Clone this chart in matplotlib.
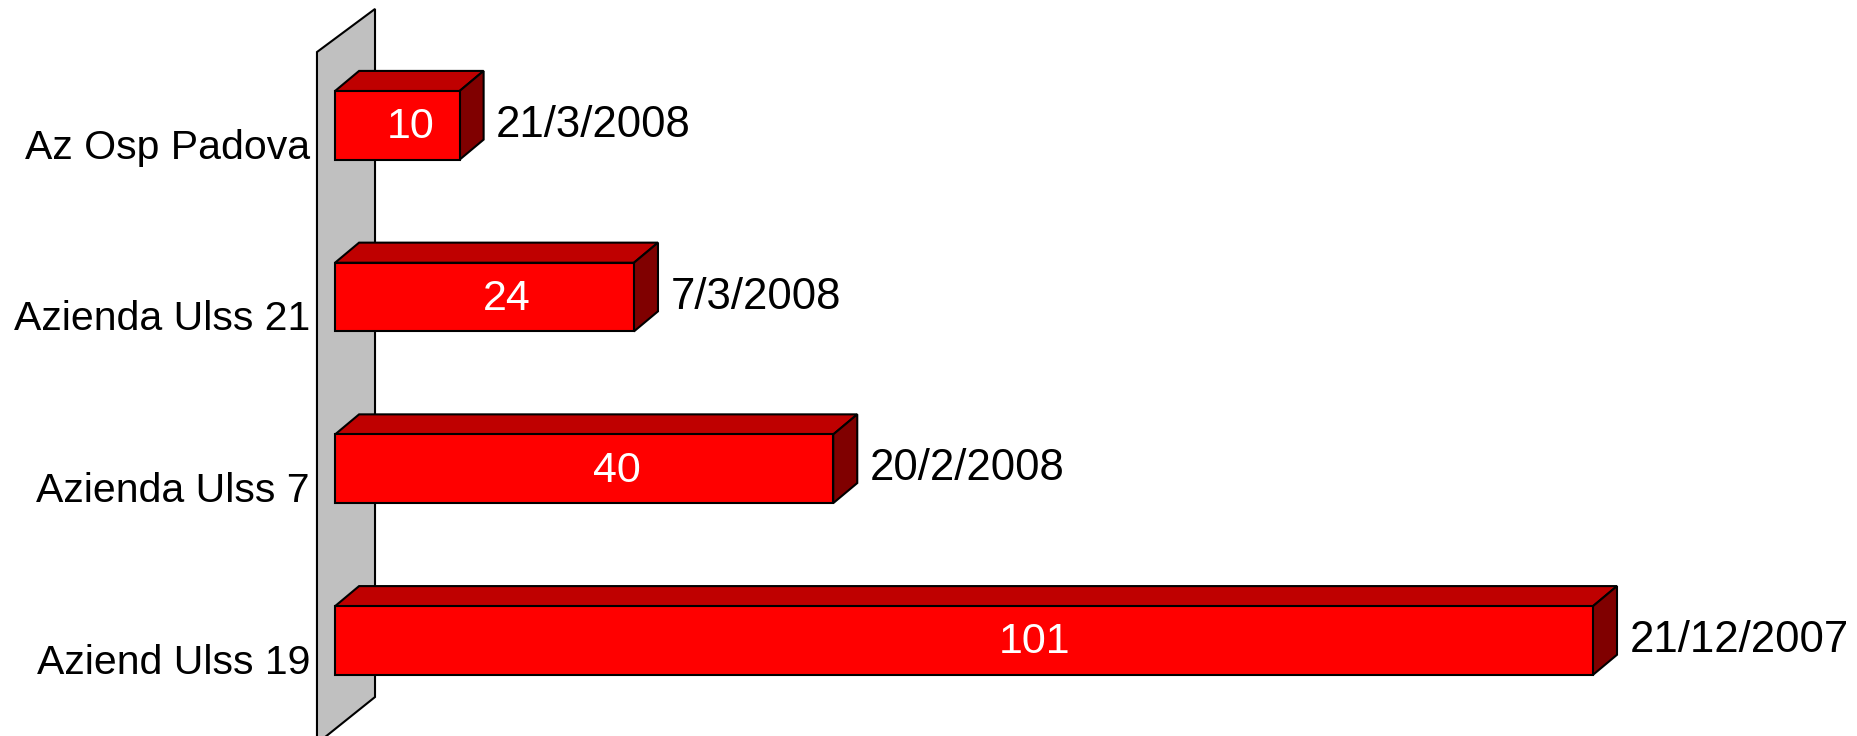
import matplotlib.pyplot as plt
from matplotlib.patches import Polygon

plt.rcParams['font.family'] = ['Liberation Sans', 'DejaVu Sans']

# data, bottom to top
categories = ['Aziend Ulss 19', 'Azienda Ulss 7', 'Azienda Ulss 21', 'Az Osp Padova']
values = [101, 40, 24, 10]
dates = ['21/12/2007', '20/2/2008', '7/3/2008', '21/3/2008']

FRONT = '#FF0000'
TOP = '#BF0000'
SIDE = '#800000'
WALL = '#C0C0C0'

BAR_H = 0.40      # bar thickness in category units
DX, DY = 1.93, 0.117   # 3d depth of the bars


def draw_bar(ax, y, v):
    y0, y1 = y - BAR_H / 2, y + BAR_H / 2
    top = [(0, y1), (v, y1), (v + DX, y1 + DY), (DX, y1 + DY)]
    side = [(v, y0), (v + DX, y0 + DY), (v + DX, y1 + DY), (v, y1)]
    front = [(0, y0), (v, y0), (v, y1), (0, y1)]
    for pts, c in [(top, TOP), (side, SIDE), (front, FRONT)]:
        ax.add_patch(Polygon(pts, closed=True, facecolor=c, edgecolor='black',
                             linewidth=1.5, joinstyle='miter', zorder=3))


def main():
    fig = plt.figure(figsize=(18.57, 7.36), dpi=100)
    ax = fig.add_axes([0, 0, 1, 1])
    ax.set_xlim(-26.9, 122.2)
    ax.set_ylim(-0.556, 3.73)
    ax.axis('off')

    # back wall
    wall = [(-1.45, -1.0), (-1.45, 3.427), (3.21, 3.678), (3.21, -0.329), (-1.45, -0.6)]
    ax.add_patch(Polygon(wall, closed=True, facecolor=WALL, edgecolor='black',
                         linewidth=1.5, zorder=1))

    for i, (cat, v, d) in enumerate(zip(categories, values, dates)):
        draw_bar(ax, i, v)
        ax.text(0.6 + v * 0.55, i - 0.01, str(v), color='white', fontsize=31,
                ha='center', va='center', zorder=4)
        ax.text(v + DX + 1.0, i, d, color='black', fontsize=31.5,
                ha='left', va='center', zorder=4)
        ax.text(-2.0, i - 0.13, cat, color='black', fontsize=29.5,
                ha='right', va='center', zorder=4)

    fig.savefig('out.png', dpi=100)


if __name__ == "__main__":
    main()
